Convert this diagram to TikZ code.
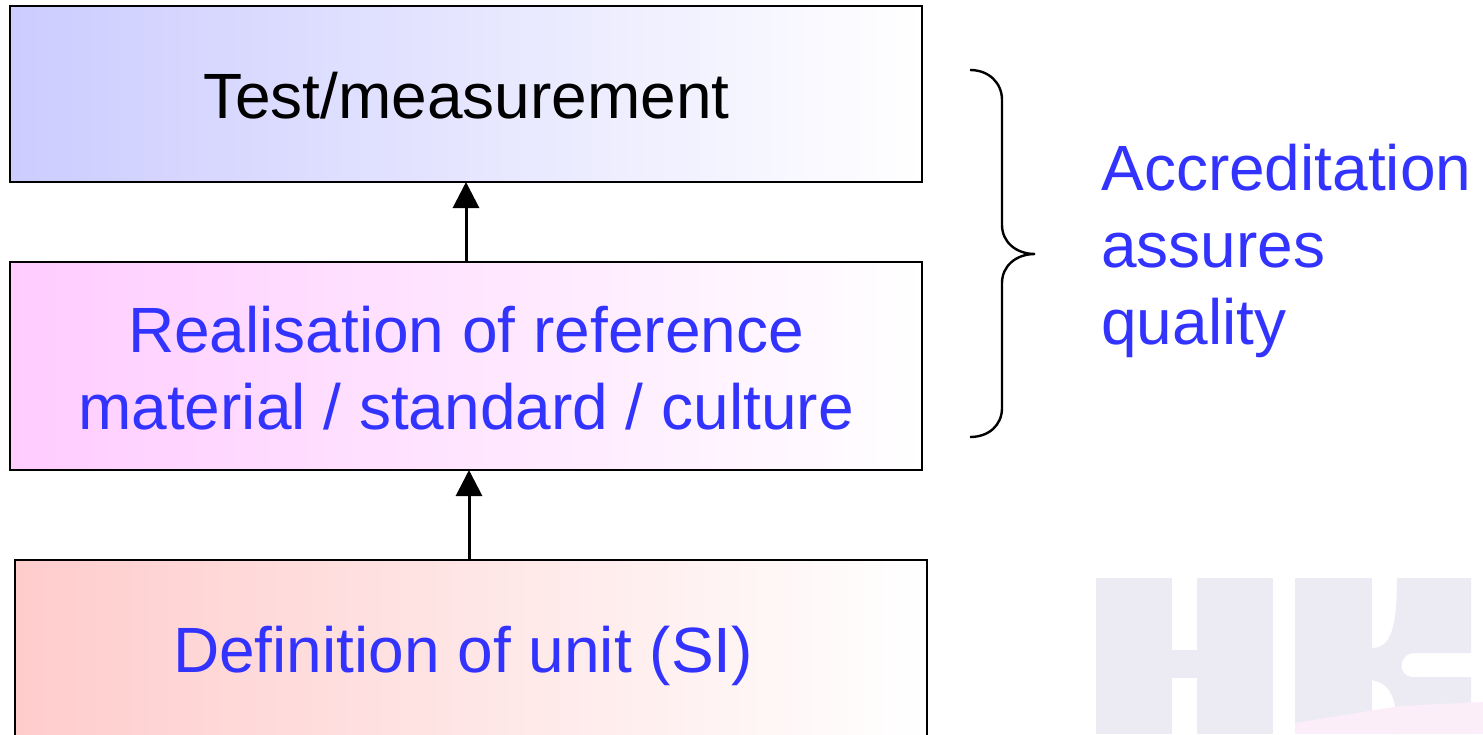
\documentclass[tikz,border=0pt]{standalone}
\usepackage{fontspec}
\setmainfont{Liberation Sans}
\usetikzlibrary{arrows.meta}
\definecolor{txtblue}{HTML}{3333FF}
\definecolor{wm}{HTML}{ECEBF4}
\definecolor{wmpink}{HTML}{FCEEF8}
\definecolor{gradblue}{HTML}{CCCCFF}
\definecolor{gradmag}{HTML}{FFCCFF}
\definecolor{gradred}{HTML}{FFCCCC}
\tikzset{
  x=0.5pt,y=-0.5pt,
  boxline/.style={draw=black,line width=1pt},
  lbl/.style={font=\fontsize{32pt}{38.5pt}\selectfont,align=center,inner sep=0pt},
  bluelbl/.style={lbl,text=txtblue},
  conn/.style={draw=black,line width=1.5pt,-{Triangle[length=13pt,width=13pt]}},
  wmshape/.style={fill=wm,draw=none},
}
\begin{document}
\begin{tikzpicture}
\useasboundingbox (0,0) rectangle (1483,734);
\fill[white] (0,0) rectangle (1483,734);
% watermark
\fill[wmshape] (1096,578) rectangle (1172,734);
\fill[wmshape] (1197,578) rectangle (1273,734);
\fill[wmshape] (1172,650) rectangle (1197,678);
\fill[wmshape] (1295,578) rectangle (1372,734);
\fill[wmshape] (1397,578) -- (1471,578) -- (1471,653) -- (1412,653)
   .. controls (1398,656) and (1398,676) .. (1412,677) -- (1471,677) -- (1471,734) -- (1397,734)
   .. controls (1397,700) and (1392,684) .. (1372,680) -- (1372,648)
   .. controls (1390,648) and (1397,630) .. (1397,578) -- cycle;
\fill[wmpink] (1295,723) -- (1400,706) -- (1483,702) -- (1483,734) -- (1295,734) -- cycle;
% boxes
\path[shade,left color=gradblue,right color=white] (10,6) rectangle (922,182);
\draw[boxline] (10,6) rectangle (922,182);
\path[shade,left color=gradmag,right color=white] (10,262) rectangle (922,470);
\draw[boxline] (10,262) rectangle (922,470);
\path[shade,left color=gradred,right color=white] (15,560) rectangle (927,745);
\begin{scope}
\clip (0,0) rectangle (1483,734);
\draw[boxline] (15,560) rectangle (927,745);
\end{scope}
\node[lbl] (test) at (466.5,96) {Test/measurement};
\node[bluelbl] (real) at (466,368.5) {Realisation of reference\\material / standard / culture};
\node[bluelbl] (defn) at (463,656) {Definition of unit (SI)};
\node[bluelbl,align=left,anchor=north west] (acc) at (1101,144) {Accreditation\\assures\\quality};
\coordinate (a1) at (466,262);
\coordinate (a2) at (466,182);
\coordinate (b1) at (469,560);
\coordinate (b2) at (469,470);
\draw[conn] (a1) -- (a2);
\draw[conn] (b1) -- (b2);
% brace
\coordinate (bt) at (970,70);
\coordinate (bm) at (1035,254);
\coordinate (bb) at (970,437);
\draw[line width=1.2pt,black] (bt) .. controls (989,70) and (1002,83) .. (1002,100) -- (1002,225)
  .. controls (1002,242) and (1016,254) .. (bm)
  .. controls (1016,254) and (1002,266) .. (1002,283) -- (1002,408)
  .. controls (1002,425) and (989,437) .. (bb);
\end{tikzpicture}
\end{document}
